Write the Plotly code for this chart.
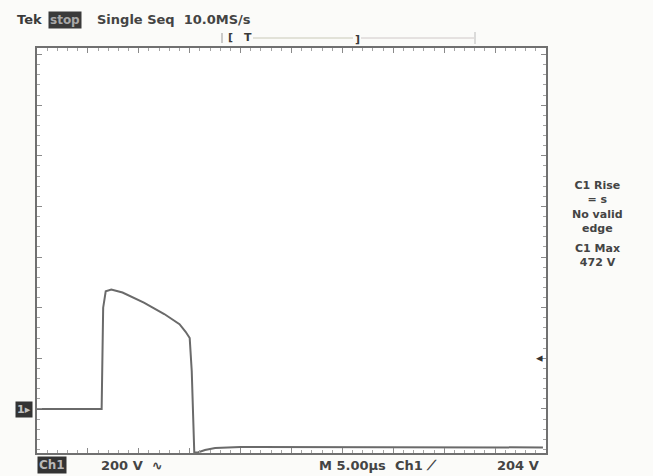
import plotly.graph_objects as go

# Scope trace (time in microseconds, voltage in volts)
time_us = [0, 6.35, 6.5, 6.75, 7.3, 8.4, 10.5, 12.5, 14.0, 14.6, 15.0, 15.2, 15.45, 15.8, 16.5, 17.5, 20, 30, 40, 49.7]
volts = [0, 0, 400, 465, 472, 460, 420, 375, 335, 305, 280, 150, -172, -172, -162, -154, -150, -150, -152, -152]

volts_per_div = 200
us_per_div = 5
trigger_level = 204
max_v = 472

W, H = 653, 476
def px(x):
    return x / W
def py(y):
    return 1 - y / H

fig = go.Figure()
fig.add_trace(go.Scatter(x=time_us, y=volts, mode="lines",
                         line=dict(color="#6a6a6a", width=2), hoverinfo="skip"))

ax_common = dict(showgrid=False, zeroline=False, showticklabels=False,
                 showline=True, linecolor="#707070", linewidth=1.5, mirror="allticks",
                 ticks="inside", ticklen=5, tickcolor="#8a8a8a", tickwidth=1,
                 minor=dict(ticks="inside", ticklen=3, tickcolor="#a5a5a5", tickwidth=1))

fig.update_layout(
    width=W, height=H, margin=dict(l=0, r=0, t=0, b=0),
    paper_bgcolor="#fbfbf9", plot_bgcolor="#ffffff", showlegend=False,
    xaxis=dict(range=[0, 10 * us_per_div], domain=[px(37), px(546)], dtick=us_per_div,
               tick0=0, minor_dtick=us_per_div / 5, **ax_common),
    yaxis=dict(range=[-0.87 * volts_per_div, 7.13 * volts_per_div], domain=[py(453), py(48)],
               dtick=volts_per_div, tick0=0, minor_dtick=volts_per_div / 5, **ax_common),
    font=dict(family="DejaVu Sans", color="#3a3a3a"),
)

ann = []
def txt(x, y, t, size=11, anchor="left", color="#3a3a3a", bg=None, bold=False):
    s = f"<b>{t}</b>" if bold else t
    ann.append(dict(x=px(x), y=py(y), xref="paper", yref="paper", text=s, showarrow=False,
                    xanchor=anchor, yanchor="middle", font=dict(size=size, color=color),
                    bgcolor=bg, borderpad=1))

txt(15, 20, "Tek", 13, bold=True)
txt(48, 20, "stop", 12, color="#a8a8a8", bg="#3a3a3a", bold=True)
txt(95, 20, "Single Seq  10.0MS/s", 13, bold=True, color="#444")
txt(242, 38, "T", 11, bold=True)
txt(353, 39, "]", 11, bold=True)
txt(226, 38, "[", 11, bold=True)

txt(597, 207, "C1 Rise<br>= s<br>No valid<br>edge", 11, anchor="center", bold=True, color="#444")
txt(597, 255, "C1 Max<br>" + f"{max_v} V", 11, anchor="center", bold=True, color="#444")

txt(15, 409, "1▸", 11, color="#c0c0c0", bg="#333333", bold=True)
txt(37, 465, "Ch1", 12, color="#b8b8b8", bg="#333333", bold=True)
txt(99, 465, f"{volts_per_div} V  ∿", 13, bold=True, color="#444")
txt(317, 465, f"M 5.00µs  Ch1 ⟋", 13, bold=True, color="#444")
txt(541, 465, f"{trigger_level} V", 13, anchor="right", bold=True, color="#444")
ann.append(dict(x=0.999 * 10 * us_per_div, y=trigger_level, xref="x", yref="y", text="◂",
                showarrow=False, xanchor="right", yanchor="middle", font=dict(size=13, color="#333")))
fig.update_layout(annotations=ann)

shapes = [
    dict(type="line", xref="paper", yref="paper", x0=px(222), x1=px(222), y0=py(33), y1=py(43),
         line=dict(color="#999", width=1)),
    dict(type="line", xref="paper", yref="paper", x0=px(253), x1=px(353), y0=py(38), y1=py(38),
         line=dict(color="#c9c9b8", width=1)),
    dict(type="line", xref="paper", yref="paper", x0=px(361), x1=px(474), y0=py(38), y1=py(38),
         line=dict(color="#cfc8c8", width=1)),
    dict(type="line", xref="paper", yref="paper", x0=px(475), x1=px(475), y0=py(32), y1=py(44),
         line=dict(color="#bbb", width=1)),
]
fig.update_layout(shapes=shapes)

fig.write_html("out.html")
